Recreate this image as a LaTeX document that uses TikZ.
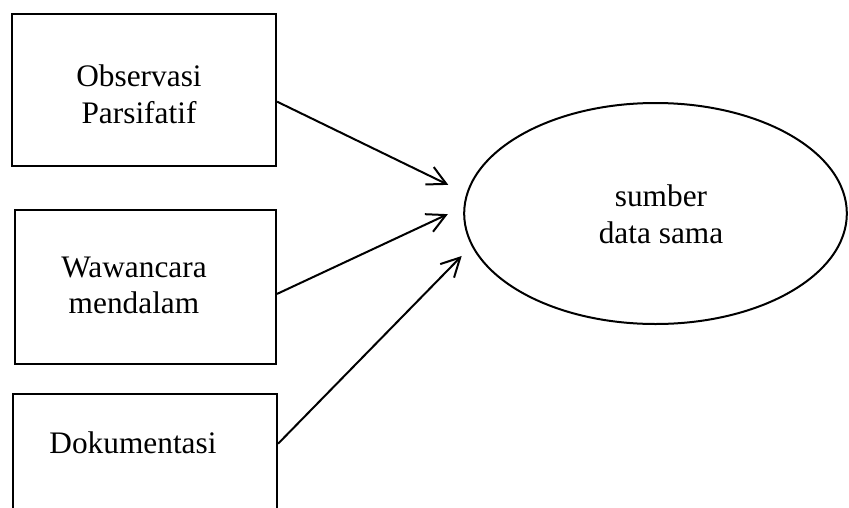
\documentclass[tikz,border=0pt]{standalone}
\usepackage{fontspec}
\setmainfont{Liberation Serif}
\usetikzlibrary{shapes.geometric,arrows.meta}
\begin{document}
\begin{tikzpicture}[x = 0.75pt, y = -0.75pt,
        box/.style = {draw, rectangle, line width = 1.6pt, inner sep = 0},
        txt/.style = {align = center, inner sep = 0, font = \fontsize{23.5}{27.5}\selectfont},
        link/.style = {line width = 1.5pt, -{Straight Barb[length = 14pt, width = 14.5pt]}}]
            \clip (0,0) rectangle (849,507);
            \node[box, minimum width = 198pt, minimum height = 114pt] (obs) at (144,90) {};
            \node[box, minimum width = 195.75pt, minimum height = 115.5pt] (waw) at (145.5,287) {};
            \node[box, minimum width = 198pt, minimum height = 117pt] (dok) at (145,472) {};
            \node[draw, ellipse, line width = 1.5pt, inner sep = 0, minimum width = 287pt, minimum height = 165.75pt] (sumber) at (655.5,213.5) {};
            \node[txt] (obstxt) at (139,94) {Observasi\\Parsifatif};
            \node[txt] (wawtxt) at (134,285.5) {Wawancara\\mendalam};
            \node[txt, anchor = base] (doktxt) at (133,453) {Dokumentasi};
            \node[txt] (sumbertxt) at (661,214) {sumber\\data sama};
            \draw[link, shorten >= 15pt] (obs.-5.6) -- (sumber.174.7);
            \draw[link, shorten >= 13pt] (waw.-3.1) -- (sumber.178.9);
            \draw[link, shorten >= 10.5pt] (dok.12.4) -- (sumber.190);
        \end{tikzpicture}
\end{document}
